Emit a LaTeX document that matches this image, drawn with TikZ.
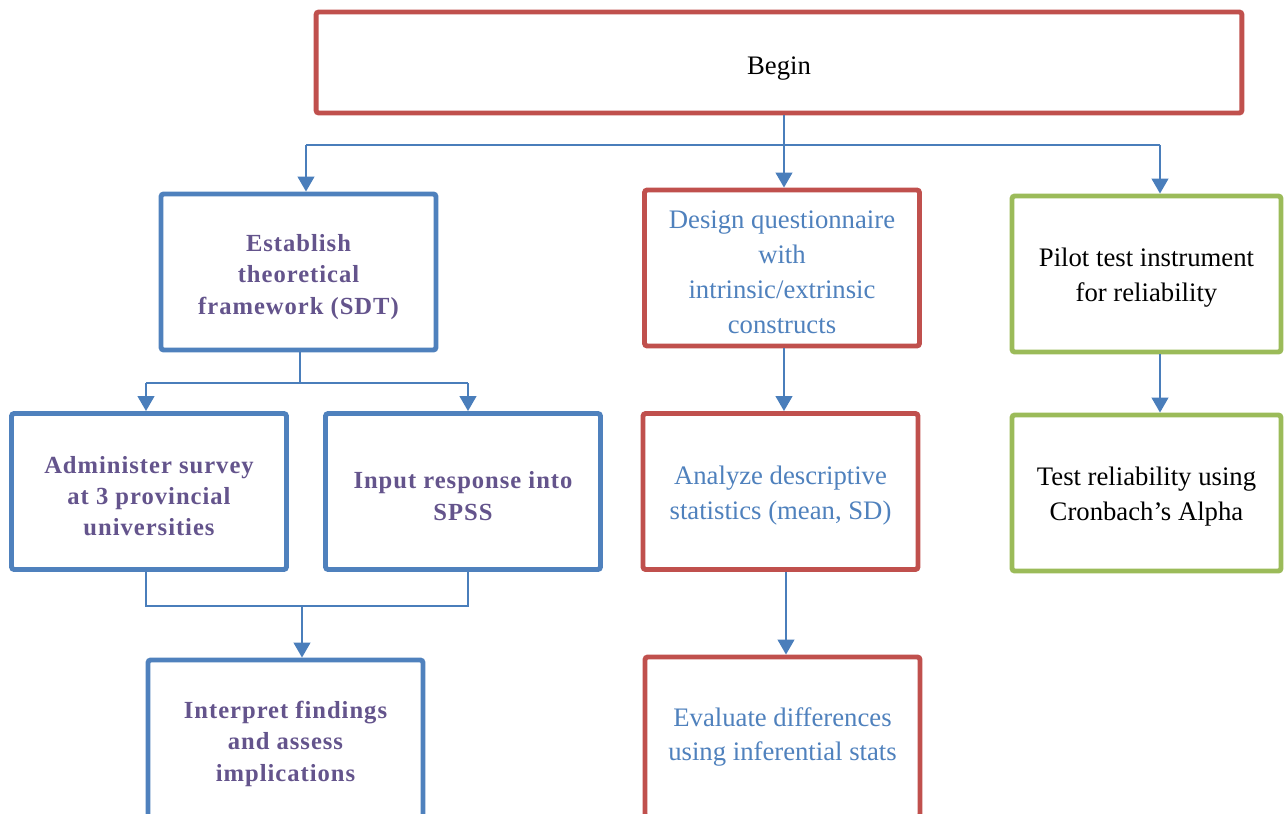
\documentclass[tikz,border=0pt]{standalone}
\usepackage{fontspec}
\setmainfont{Liberation Serif}
\newfontfamily\widefont[LetterSpace=4]{Liberation Serif}
\usetikzlibrary{arrows.meta}
\definecolor{boxred}{HTML}{C0504D}
\definecolor{boxblue}{HTML}{4F81BD}
\definecolor{boxgreen}{HTML}{9BBB59}
\definecolor{txtblue}{HTML}{4F81BD}
\definecolor{txtpurple}{HTML}{64548C}
\definecolor{lineblue}{HTML}{4A7EBB}
\newcommand{\widebold}{\widefont\bfseries\fontsize{14}{17.9}\selectfont}
\newcommand{\tp}{\rule{0pt}{15pt}}
\tikzset{
  box/.style={draw, line width=2.8pt, rounded corners=1.5pt, fill=white,
    minimum width=5.5cm, minimum height=3.12cm, align=center,
    font=\fontsize{15.2}{19.8}\selectfont},
  redbox/.style={box, draw=boxred, text=txtblue},
  bluebox/.style={box, draw=boxblue, text=txtpurple, font=\widebold},
  greenbox/.style={box, draw=boxgreen, minimum width=5.38cm},
  link/.style={draw=lineblue, line width=1.1pt},
  arr/.style={link, -{Triangle[width=9.5pt,length=8.5pt]}}
}
\begin{document}
\begin{tikzpicture}[x=0.02cm,y=-0.02cm]
\clip (0,0) rectangle (1285,814);
\node [redbox, text=black, minimum width=18.52cm, minimum height=2.02cm] (begin) at (779,62.5) {\rule{0pt}{17.5pt}Begin};
\node [bluebox] (est) at (298.5,272) {\tp Establish\\theoretical\\framework (SDT)};
\node [redbox] (design) at (782,268) {\tp Design questionnaire\\with\\intrinsic/extrinsic\\constructs};
\node [greenbox] (pilot) at (1146.5,274) {\tp Pilot test instrument\\for reliability};
\node [bluebox] (admin) at (149,491.5) {\tp Administer survey\\at 3 provincial\\universities};
\node [bluebox] (input) at (463,491.5) {\tp Input response into\\SPSS};
\node [redbox] (analyze) at (780.5,491.5) {\tp Analyze descriptive\\statistics (mean, SD)};
\node [greenbox] (test) at (1146.5,493) {\tp Test reliability using\\Cronbach's Alpha};
\node [bluebox, minimum height=3.16cm] (interp) at (285.5,739) {\tp Interpret findings\\and assess\\implications};
\node [redbox, minimum height=3.2cm] (eval) at (782.5,737) {Evaluate differences\\using inferential stats};
\coordinate (t1) at (784,145);
\coordinate (t1l) at (306,145);
\coordinate (t1r) at (1160,145);
\coordinate (t2) at (300,383);
\coordinate (t2l) at (146,383);
\coordinate (t2r) at (468,383);
\coordinate (t3) at (302,606);
\coordinate (t3l) at (146,606);
\coordinate (t3r) at (468,606);
\draw [link] (begin.south -| t1) -- (t1);
\draw [link] (t1l) -- (t1r);
\draw [arr] (t1) -- (t1 |- design.north);
\draw [arr] (t1l) -- (t1l |- est.north);
\draw [arr] (t1r) -- (t1r |- pilot.north);
\draw [link] (t2 |- est.south) -- (t2);
\draw [link] (t2l) -- (t2r);
\draw [arr] (t2l) -- (t2l |- admin.north);
\draw [arr] (t2r) -- (t2r |- input.north);
\draw [link] (t3l |- admin.south) -- (t3l) -- (t3r) -- (t3r |- input.south);
\draw [arr] (t3) -- (t3 |- interp.north);
\draw [arr] (t1 |- design.south) -- (t1 |- analyze.north);
\draw [arr] (786,0 |- analyze.south) -- (786,0 |- eval.north);
\draw [arr] (t1r |- pilot.south) -- (t1r |- test.north);
\end{tikzpicture}
\end{document}
